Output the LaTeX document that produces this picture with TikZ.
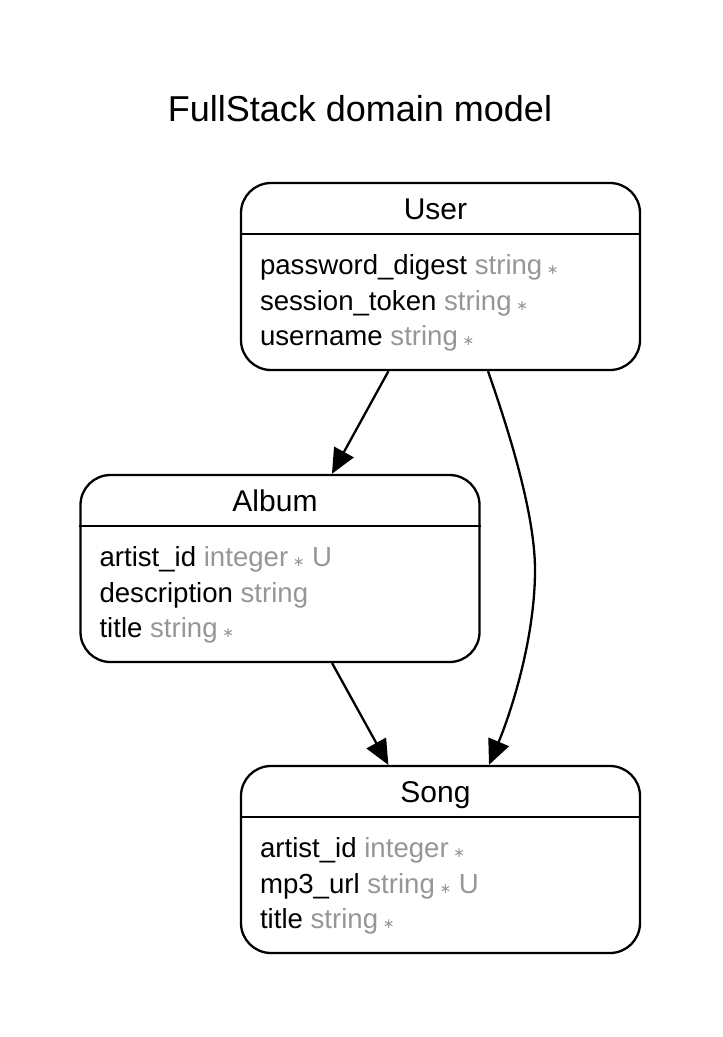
\documentclass[tikz,border=0pt]{standalone}
\usepackage{xcolor}
\usepackage{fontspec}
\setmainfont{Liberation Sans}
\newfontfamily\symfont{DejaVu Sans}
\usepackage{tikz}
\usetikzlibrary{arrows.meta,positioning,calc}

\definecolor{attrgray}{RGB}{150,150,150}
\newcommand{\dtype}[1]{\textcolor{attrgray}{#1}}
\newcommand{\req}{\,{\symfont\fontsize{14}{14}\selectfont\textcolor{attrgray}{∗}}}

\begin{document}
\begin{tikzpicture}[
    x=1pt, y=-1pt,
    entity/.style={draw, line width=2.3pt, rounded corners=30pt, minimum width=399pt, minimum height=187pt, inner sep=0pt},
    header/.style={anchor=base, inner sep=0pt, font=\fontsize{30}{36}\selectfont},
    attrs/.style={anchor=base west, align=left, inner sep=0pt, font=\fontsize{27.6}{35.5}\selectfont},
    divider/.style={line width=2.3pt},
    edge/.style={->, line width=2.3pt},
    >={Triangle[length=25pt,width=22pt]},
  ]
    \useasboundingbox (0,0) rectangle (723,1037);
    % Title
    \node[anchor=base, inner sep=0pt, font=\fontsize{36}{40}\selectfont] (title) at (360,121) {FullStack domain model};

    % User
    \node[entity] (user) at (440.5,276.5) {};
    \node[header] (userhead) at ($(user.north)+(-5,37.5)$) {User};
    \draw[divider] ($(user.north west)+(0,52)$) -- ($(user.north east)+(0,52)$);
    \node[attrs] (userattrs) at ($(user.north west)+(20,164)$) {password\_digest \dtype{string}\req\\
      session\_token \dtype{string}\req\\
      username \dtype{string}\req};

    % Album
    \node[entity] (album) at (280,568.5) {};
    \node[header] (albumhead) at ($(album.north)+(-5,37.5)$) {Album};
    \draw[divider] ($(album.north west)+(0,52)$) -- ($(album.north east)+(0,52)$);
    \node[attrs] (albumattrs) at ($(album.north west)+(20,164)$) {artist\_id \dtype{integer}\req\ \dtype{U}\\
      description \dtype{string}\\
      title \dtype{string}\req};

    % Song
    \node[entity] (song) at (440.5,859.5) {};
    \node[header] (songhead) at ($(song.north)+(-5,37.5)$) {Song};
    \draw[divider] ($(song.north west)+(0,52)$) -- ($(song.north east)+(0,52)$);
    \node[attrs] (songattrs) at ($(song.north west)+(20,164)$) {artist\_id \dtype{integer}\req\\
      mp3\_url \dtype{string}\req\ \dtype{U}\\
      title \dtype{string}\req};

    % Edges
    \coordinate (bend) at (535,570);
    \draw[edge] (user) -- (album);
    \draw[edge] (album) -- (song);
    \draw[edge] ($(user.south)+(47.5,0)$) .. controls (505,420) and (535,510) .. (bend)
      .. controls (535,640) and (510,715) .. ($(song.north)+(48.5,0)$);
  \end{tikzpicture}
\end{document}
